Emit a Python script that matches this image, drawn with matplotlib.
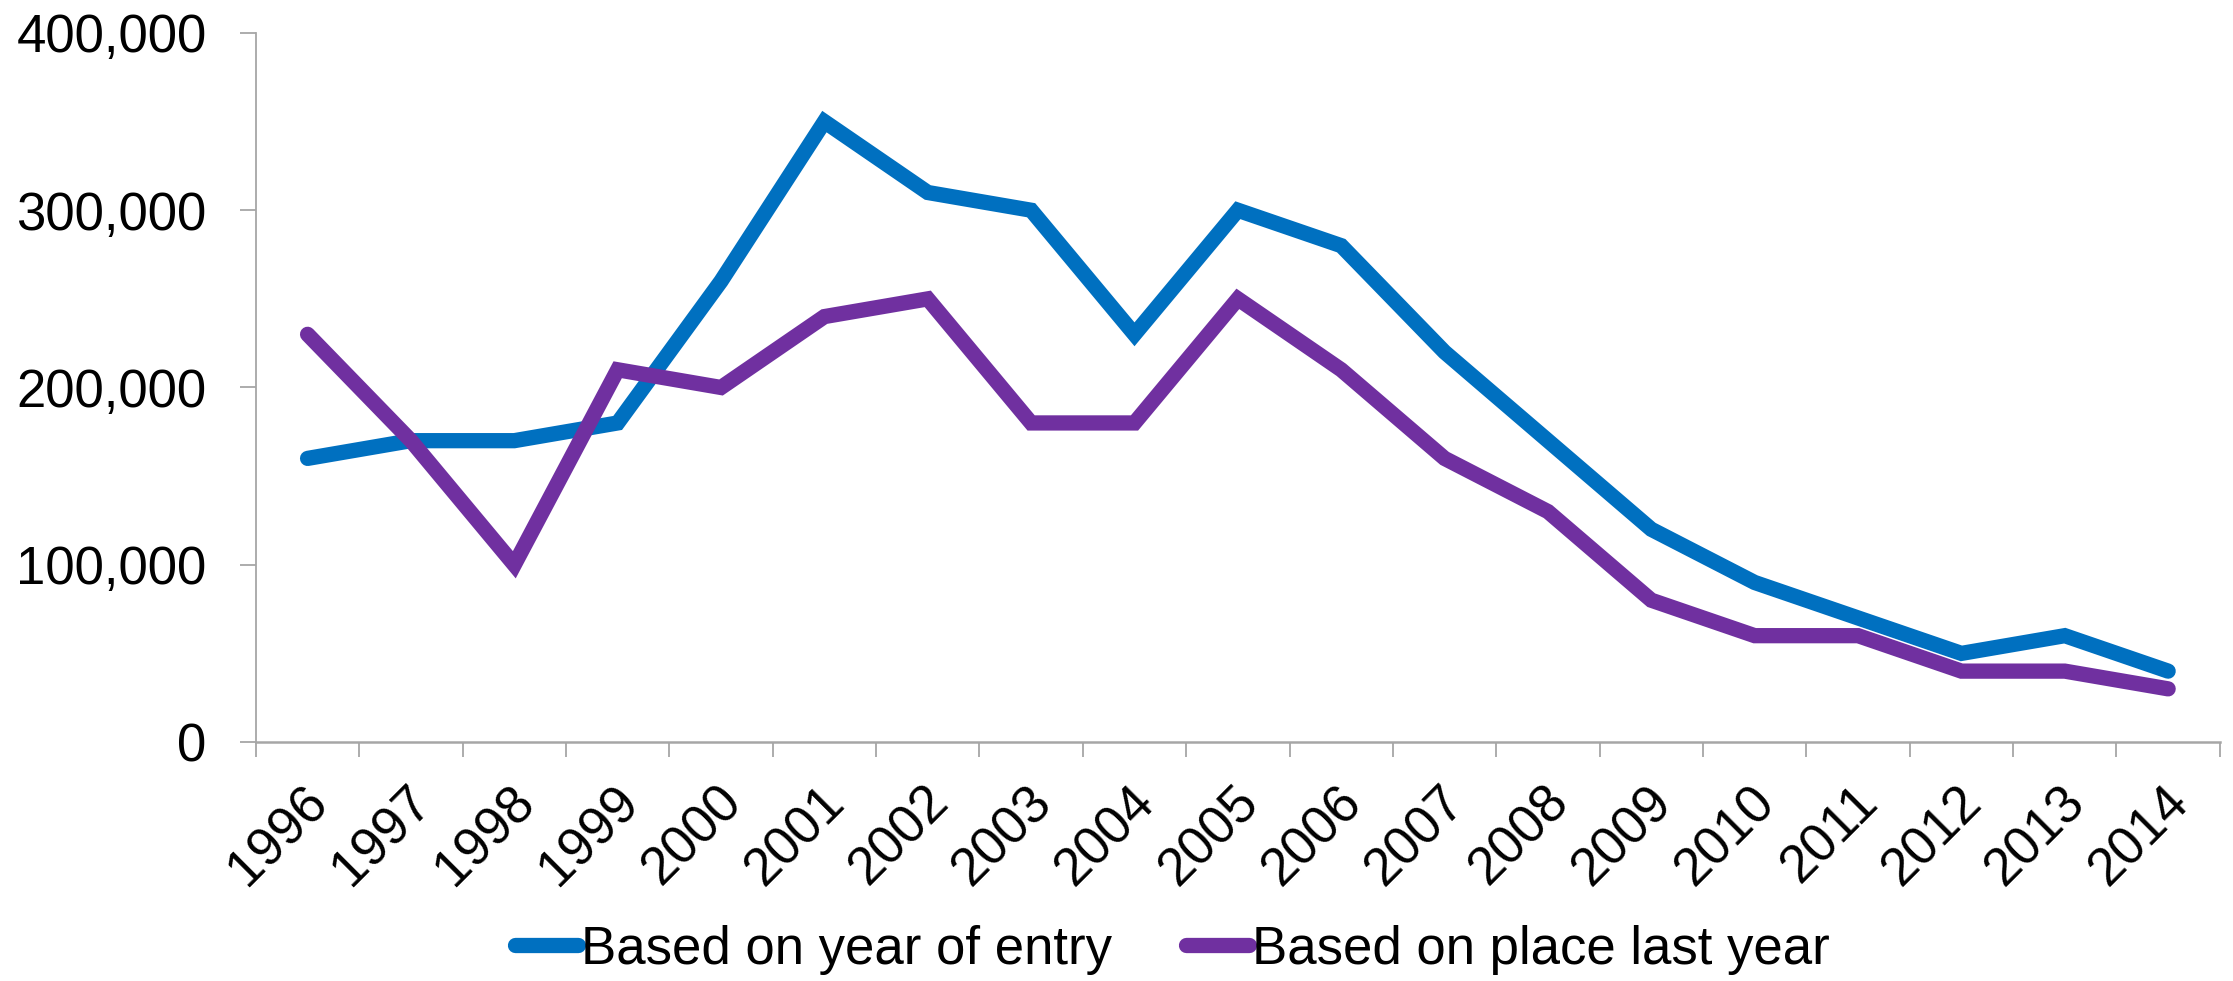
import matplotlib
matplotlib.use("Agg")
import matplotlib.pyplot as plt
import matplotlib.transforms as mtransforms
from matplotlib.ticker import FuncFormatter, FixedLocator

plt.rcParams['font.family'] = ['Liberation Sans', 'DejaVu Sans']

years = ["1996", "1997", "1998", "1999", "2000", "2001", "2002", "2003", "2004", "2005",
         "2006", "2007", "2008", "2009", "2010", "2011", "2012", "2013", "2014"]
year_of_entry = [160000, 170000, 170000, 180000, 260000, 350000, 310000, 300000, 230000, 300000,
                 280000, 220000, 170000, 120000, 90000, 70000, 50000, 60000, 40000]
place_last_year = [230000, 170000, 100000, 210000, 200000, 240000, 250000, 180000, 180000, 250000,
                   210000, 160000, 130000, 80000, 60000, 60000, 40000, 40000, 30000]
series_labels = ["Based on year of entry", "Based on place last year"]
series_colors = ["#0070C0", "#7030A0"]

fig = plt.figure(figsize=(22.33, 9.81), dpi=100)
ax = fig.add_axes([0.1146, 0.2436, 0.8795, 0.7228])

x = list(range(len(years)))
for vals, lab, col in zip([year_of_entry, place_last_year], series_labels, series_colors):
    ax.plot(x, vals, color=col, lw=11, label=lab,
            solid_capstyle="round", solid_joinstyle="miter")

ax.set_xlim(-0.5, len(years) - 0.5)
ax.set_ylim(0, 400000)
ax.set_yticks([0, 100000, 200000, 300000, 400000])
ax.yaxis.set_major_formatter(FuncFormatter(lambda v, p: f"{int(v):,}"))

# category labels at centres, tick marks on the boundaries
ax.set_xticks(x)
ax.set_xticklabels(years, rotation=45, ha="right", rotation_mode="anchor")
ax.xaxis.set_minor_locator(FixedLocator([i - 0.5 for i in range(len(years) + 1)]))
ax.tick_params(axis="x", which="major", length=0, labelsize=38, pad=25)
ax.tick_params(axis="x", which="minor", length=11, width=1.3, color="#A6A6A6")
ax.tick_params(axis="y", length=11.5, width=1.3, color="#A6A6A6", labelsize=38, pad=24)

# nudge the slanted year labels a little to the left
shift = mtransforms.ScaledTranslation(-5 / 100, 0, fig.dpi_scale_trans)
for lbl in ax.get_xticklabels():
    lbl.set_transform(lbl.get_transform() + shift)

for side in ["top", "right"]:
    ax.spines[side].set_visible(False)
ax.spines["left"].set_color("#A6A6A6")
ax.spines["left"].set_linewidth(1.3)
ax.spines["bottom"].set_color("#A6A6A6")
ax.spines["bottom"].set_linewidth(1.8)

fig.legend(loc="center", bbox_to_anchor=(0.525, 0.032), ncol=2, frameon=False,
           fontsize=38, handlelength=1.2, handletextpad=0.05, columnspacing=1.4)

fig.savefig("out.png", dpi=100)
